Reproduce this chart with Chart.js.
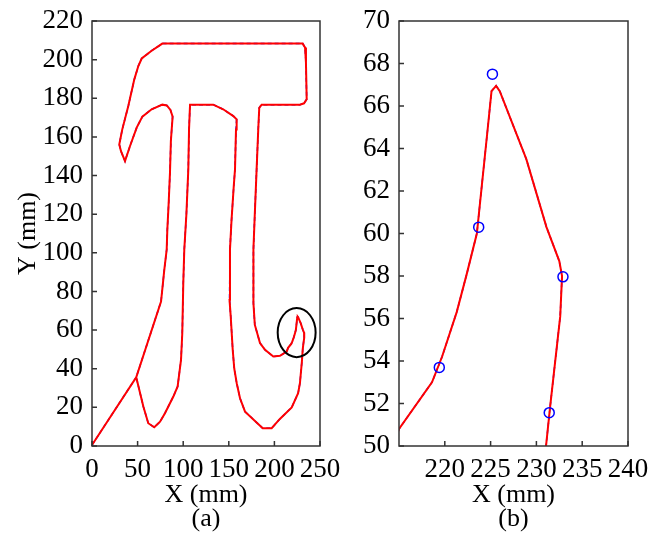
<!DOCTYPE html>
<html>
<head>
<meta charset="utf-8">
<script src="https://cdn.jsdelivr.net/npm/chart.js@4.4.1/dist/chart.umd.min.js"></script>
<style>
  body { margin: 0; background: #fff; }
  #wrap { position: relative; width: 661px; height: 536px; }
  canvas { position: absolute; top: 0; }
  #chartA { left: 0; }
  #chartB { left: 340px; }
</style>
</head>
<body>
<div id="wrap">
  <canvas id="chartA" width="340" height="536"></canvas>
  <canvas id="chartB" width="321" height="536"></canvas>
</div>
<script>
// traced path of the pi outline (mm), red = actual, blue dashed = reference
const pathX = [0, 48.5, 75.7, 79.3, 81.9, 82.6, 84, 85.5, 86.5, 88.4, 86, 82, 77.1, 65.4, 55.2, 49, 41.7, 36.2, 31.8, 29.9,
  33.2, 39.8, 46.4, 50.8, 54.5, 65, 77.1, 231, 233.6, 234.6, 235.4, 232.5, 228, 186, 183.4, 182.3, 180.5, 178.5, 177, 177,
  178.5, 184.2, 189.7, 198.8, 206.1, 213.5, 215, 218.6, 219.7, 221.3, 222.4, 223.5, 224.7, 225.1, 225.6, 226.0, 228.9, 231.1, 232.5, 232.8,
  232.6, 231.5, 231.05, 230.2, 228, 226, 219, 206, 197, 187.2, 167.8, 162.3, 158.7, 156, 154.3, 152.1, 150.8, 151.3, 153, 155.5,
  156.8, 157.9, 158.6, 155, 143.8, 133, 107.5, 106.4, 105.6, 103.5, 101.2, 100.1, 99, 97.6, 93.9, 89.2, 80, 74.6, 68.3, 61.7,
  56.3, 48.5]
const pathY = [0.5, 35.6, 74.8, 91.3, 101.7, 112, 125, 141.4, 158, 170.5, 174, 176.3, 176.7, 174.3, 170.5, 164.8, 155.3, 147.5, 152.6, 156.1,
  163.9, 176, 189.8, 196.7, 200.6, 204.5, 208.3, 208.3, 206.3, 198.4, 179.5, 177.4, 176.7, 176.7, 175.1, 163.9, 143.2, 120, 101.7, 74,
  62.8, 53.3, 49.8, 46.3, 46.7, 48.9, 50.8, 53, 54.2, 56.3, 58.1, 60, 65, 66.7, 66.95, 66.7, 63.5, 60.3, 58.7, 58.0,
  56.1, 51.85, 50, 44, 32.5, 27.3, 20, 14, 9.2, 9.2, 17.8, 24.7, 32.5, 40, 49.8, 67.1, 75.7, 101.7, 117, 135,
  143.2, 163.9, 169.1, 170.8, 174.3, 176.7, 176.7, 163.9, 143.2, 120, 101.7, 84.4, 58.5, 44.6, 30.8, 25.6, 17, 12.6, 9.7, 11.8,
  20.4, 35.6]

// waypoints shown in the zoomed panel
const wayX = [219.4, 223.7, 225.2, 232.9, 231.4]
const wayY = [53.7, 60.3, 67.5, 57.96, 51.57]

// marked region in panel (a)
const ellipseCenter = [224.4, 58.7]
const ellipseRadius = [20.8, 12.7]

const xTicksA = [0, 50, 100, 150, 200, 250]
const xTicksB = [220, 225, 230, 235, 240]

const FONT = '"Liberation Serif", "Times New Roman", serif'
const path = pathX.map((x, i) => ({x: x, y: pathY[i]}))
const waypoints = wayX.map((x, i) => ({x: x, y: wayY[i]}))

// box around the plot and small inward tick marks
const framePlugin = {
  id: 'frame',
  afterDraw(chart) {
    const {ctx, chartArea: a, scales} = chart
    ctx.save()
    ctx.strokeStyle = '#333'
    ctx.lineWidth = 1.5
    ctx.strokeRect(a.left, a.top, a.right - a.left, a.bottom - a.top)
    ctx.beginPath()
    scales.x.ticks.forEach((t, i) => {
      const px = scales.x.getPixelForTick(i)
      ctx.moveTo(px, a.bottom)
      ctx.lineTo(px, a.bottom - 5)
    })
    scales.y.ticks.forEach((t, i) => {
      const py = scales.y.getPixelForTick(i)
      ctx.moveTo(a.left, py)
      ctx.lineTo(a.left + 5, py)
    })
    ctx.stroke()
    ctx.restore()
  }
}

const ellipsePlugin = {
  id: 'ellipse',
  afterDatasetsDraw(chart) {
    const {ctx, scales: {x, y}} = chart
    const cx = x.getPixelForValue(ellipseCenter[0])
    const cy = y.getPixelForValue(ellipseCenter[1])
    const rx = Math.abs(x.getPixelForValue(ellipseCenter[0] + ellipseRadius[0]) - cx)
    const ry = Math.abs(y.getPixelForValue(ellipseCenter[1] + ellipseRadius[1]) - cy)
    ctx.save()
    ctx.strokeStyle = '#000'
    ctx.lineWidth = 2
    ctx.beginPath()
    ctx.ellipse(cx, cy, rx, ry, 0, 0, 2 * Math.PI)
    ctx.stroke()
    ctx.restore()
  }
}

function pathDatasets() {
  return [{
    data: path,
    showLine: true,
    borderColor: '#ff0000',
    borderWidth: 2,
    pointRadius: 0,
    tension: 0,
    order: 1
  },
  {
    data: path,
    showLine: true,
    borderColor: '#0000ff',
    borderWidth: 1.5,
    borderDash: [4, 3],
    pointRadius: 0,
    tension: 0,
    order: 2
  }]
}

function makeOptions(cfg) {
  return {
    responsive: false,
    animation: false,
    layout: {padding: {left: 0, top: 21, right: cfg.padRight, bottom: 5}},
    plugins: {legend: {display: false}, tooltip: {enabled: false}},
    scales: {
      x: {
        type: 'linear',
        min: cfg.xMin,
        max: cfg.xMax,
        afterBuildTicks: (scale) => { scale.ticks = cfg.xTicks.map(v => ({value: v})) },
        afterFit: (scale) => {
          scale.height = 85
          scale.paddingLeft = 0
          scale.paddingRight = 0
        },
        grid: {display: false, drawTicks: false},
        border: {display: false},
        ticks: {color: '#000', padding: 8, maxRotation: 0, minRotation: 0, autoSkip: false,
          font: {family: FONT, size: 27}},
        title: {display: true, text: ['X (mm)', cfg.label], color: '#000',
          font: {family: FONT, size: 26, lineHeight: '24px'}, padding: {top: 0, bottom: 0}}
      },
      y: {
        type: 'linear',
        min: cfg.yMin,
        max: cfg.yMax,
        afterFit: (scale) => {
          scale.width = cfg.yWidth
          scale.paddingTop = 0
          scale.paddingBottom = 0
        },
        grid: {display: false, drawTicks: false},
        border: {display: false},
        ticks: {stepSize: cfg.yStep, color: '#000', padding: 9, autoSkip: false,
          font: {family: FONT, size: 27}},
        title: {display: cfg.yTitle, text: 'Y (mm)', color: '#000',
          font: {family: FONT, size: 26, lineHeight: '24px'}, padding: {top: 16, bottom: 0}}
      }
    }
  }
}

new Chart(document.getElementById('chartA'), {
  type: 'scatter',
  data: {datasets: pathDatasets()},
  options: makeOptions({xMin: 0, xMax: 250, xTicks: xTicksA, yMin: 0, yMax: 220, yStep: 20,
    yWidth: 92, padRight: 20, label: '(a)', yTitle: true}),
  plugins: [ellipsePlugin, framePlugin]
})

const dsB = pathDatasets()
dsB.unshift({
  data: waypoints,
  showLine: false,
  pointStyle: 'circle',
  pointRadius: 5,
  borderColor: '#0000ff',
  backgroundColor: 'rgba(0,0,0,0)',
  borderWidth: 1.5,
  order: 0
})

new Chart(document.getElementById('chartB'), {
  type: 'scatter',
  data: {datasets: dsB},
  options: makeOptions({xMin: 215, xMax: 240, xTicks: xTicksB, yMin: 50, yMax: 70, yStep: 2,
    yWidth: 59, padRight: 33, label: '(b)', yTitle: false}),
  plugins: [framePlugin]
})
</script>
</body>
</html>
